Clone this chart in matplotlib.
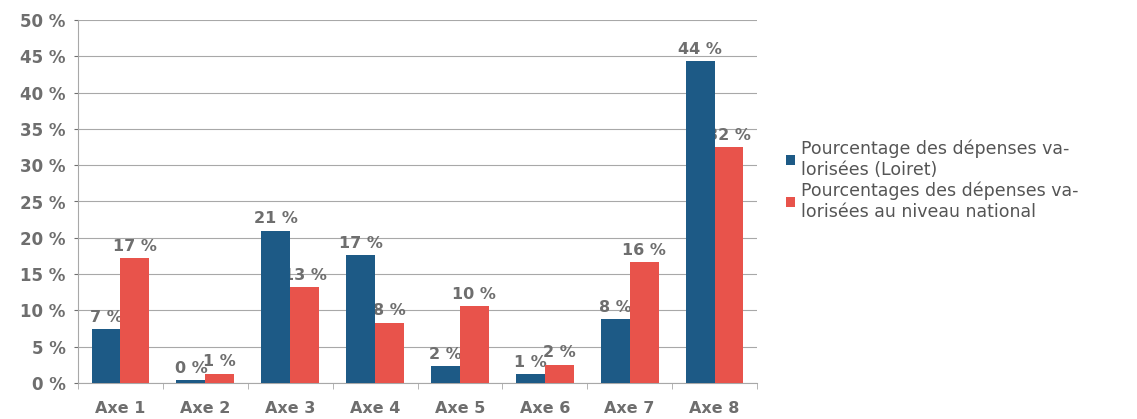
# IMPORTS
import matplotlib
matplotlib.use("Agg")
import matplotlib.pyplot as plt
import numpy as np

# CONSTANTS
BLUE = "#1d5a86"
RED = "#e8534b"
TEXT_COLOR = "#6e6e6e"
GRID_COLOR = "#a8a8a8"

# DATA
categories = ["Axe 1", "Axe 2", "Axe 3", "Axe 4", "Axe 5", "Axe 6", "Axe 7", "Axe 8"]
loiret = [7.4, 0.4, 21.0, 17.6, 2.3, 1.2, 8.8, 44.3]
national = [17.2, 1.3, 13.2, 8.3, 10.6, 2.5, 16.6, 32.5]
loiret_labels = ["7 %", "0 %", "21 %", "17 %", "2 %", "1 %", "8 %", "44 %"]
national_labels = ["17 %", "1 %", "13 %", "8 %", "10 %", "2 %", "16 %", "32 %"]
series_names = ["Pourcentage des dépenses va-\nlorisées (Loiret)",
                "Pourcentages des dépenses va-\nlorisées au niveau national"]
y_ticks = list(range(0, 51, 5))

# GRAPH
fig = plt.figure(figsize=(11.37, 4.19), dpi=100)
ax = fig.add_axes([78 / 1137, 1 - 383 / 419, (757 - 78) / 1137, (383 - 20) / 419])

x = np.arange(len(categories))
width = 0.34

bars_blue = ax.bar(x - width / 2, loiret, width, color=BLUE, zorder=3, label=series_names[0])
bars_red = ax.bar(x + width / 2, national, width, color=RED, zorder=3, label=series_names[1])

# Data labels (under the bars, so they get partly hidden as in the original)
for bars, texts in [(bars_blue, loiret_labels), (bars_red, national_labels)]:
    for bar, txt in zip(bars, texts):
        ax.text(bar.get_x() + bar.get_width() / 2, bar.get_height() + 0.6, txt,
                ha="center", va="bottom", fontsize=11.5, fontweight="bold",
                color=TEXT_COLOR, zorder=2)

# Axes
ax.set_xlim(-0.5, len(categories) - 0.5)
ax.set_ylim(0, 50)
ax.set_yticks(y_ticks)
ax.set_yticklabels([f"{t} %" for t in y_ticks])
ax.set_xticks(x)
ax.set_xticklabels(categories)
ax.set_xticks(np.arange(len(categories) + 1) - 0.5, minor=True)
ax.tick_params(axis="y", colors=TEXT_COLOR, labelsize=12, length=3, pad=6)
ax.tick_params(axis="x", which="major", colors=TEXT_COLOR, labelsize=11.5, length=0, pad=13)
ax.tick_params(axis="x", which="minor", colors=GRID_COLOR, length=4)
for lbl in ax.get_yticklabels() + ax.get_xticklabels():
    lbl.set_fontweight("bold")

ax.yaxis.grid(True, color=GRID_COLOR, linewidth=0.8, zorder=0)
ax.set_axisbelow(True)
for side in ["top", "right"]:
    ax.spines[side].set_visible(False)
ax.spines["left"].set_color(GRID_COLOR)
ax.spines["bottom"].set_color(GRID_COLOR)

# Legend
fig.legend(handles=[bars_blue, bars_red], labels=series_names,
           loc="upper left", bbox_to_anchor=(770 / 1137, 1 - 124 / 419),
           frameon=False, handlelength=0.55, handleheight=0.55,
           handletextpad=0.35, labelspacing=0.15, labelcolor="#555555",
           prop={"family": "DejaVu Sans", "size": 12.5})

fig.savefig("out.png", dpi=100, facecolor="white")
